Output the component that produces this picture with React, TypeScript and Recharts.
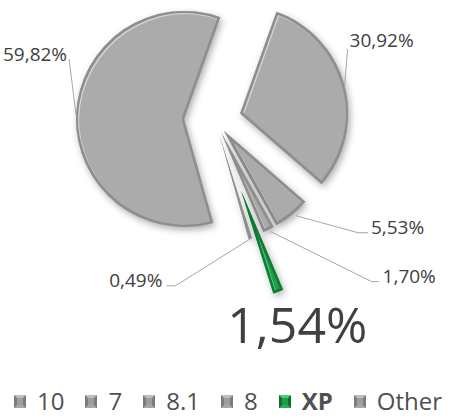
import React from "react";
import { Cell, Legend, Pie, PieChart } from "recharts";

const names = ["10", "7", "8.1", "8", "XP", "Other"];
const shares = [59.82, 30.92, 5.53, 1.7, 1.54, 0.49];
const labels = ["59,82%", "30,92%", "5,53%", "1,70%", "1,54%", "0,49%"];

const data = names.map((name, i) => ({ name, value: shares[i] }));

// layout / look
const W = 449;
const H = 418;
const CX = 215;
const CY = 120;
const R = 108;
const START = -74.3; // first slice starts ~164deg clockwise from 12 o'clock
const RAD = Math.PI / 180;
const explode = [31, 26, 14, 14, 75, 16];
const fills = ["#ababab", "#ababab", "#ababab", "#ababab", "#21a04b", "#ababab"];

type LabelStyle = {
  dx: number;
  dy: number;
  anchor: "start" | "end" | "middle";
  size: number;
  line: [number, number][];
};

const labelStyles: LabelStyle[] = [
  { dx: -9, dy: -54, anchor: "end", size: 19, line: [[0, 0], [-7, -56]] },
  { dx: 5, dy: -39, anchor: "start", size: 19, line: [[0, 0], [3, -37]] },
  { dx: 79, dy: 19, anchor: "start", size: 19, line: [[4, 1], [66, 18], [76, 18]] },
  { dx: 114, dy: 53, anchor: "start", size: 19, line: [[2, 2], [103, 52], [110, 52]] },
  { dx: 19, dy: 51, anchor: "middle", size: 50, line: [] },
  { dx: -88, dy: 48, anchor: "end", size: 19, line: [[0, 0], [-75, 47], [-84, 47]] },
];

const total = shares.reduce((a, b) => a + b, 0);
const midAngles = shares.map((v, i) => {
  const before = shares.slice(0, i).reduce((a, b) => a + b, 0);
  return START - (360 * (before + v / 2)) / total;
});

function BevelFilter({ id, rim, light }: { id: string; rim: string; light: string }) {
  return (
    <filter id={id} x="-20%" y="-20%" width="140%" height="140%" colorInterpolationFilters="sRGB">
      <feGaussianBlur in="SourceAlpha" stdDeviation="3.5" result="sb" />
      <feOffset in="sb" dx="2" dy="3" result="so" />
      <feFlood floodColor="#000" floodOpacity="0.32" />
      <feComposite in2="so" operator="in" result="shadow" />
      <feMorphology in="SourceAlpha" operator="erode" radius="2" result="inner" />
      <feComposite in="SourceAlpha" in2="inner" operator="out" result="rimA" />
      <feFlood floodColor={rim} />
      <feComposite in2="rimA" operator="in" result="rimC" />
      <feOffset in="inner" dx="1.3" dy="1.3" result="innerS" />
      <feComposite in="inner" in2="innerS" operator="out" result="hlA" />
      <feFlood floodColor={light} floodOpacity="0.85" />
      <feComposite in2="hlA" operator="in" result="hl" />
      <feMerge>
        <feMergeNode in="shadow" />
        <feMergeNode in="SourceGraphic" />
        <feMergeNode in="rimC" />
        <feMergeNode in="hl" />
      </feMerge>
    </filter>
  );
}

const renderLabel = (slice: number) => (props: any) => {
  const { cx, cy, midAngle, outerRadius, index } = props;
  if (index !== slice) return null;
  const px = cx + outerRadius * Math.cos(-midAngle * RAD);
  const py = cy + outerRadius * Math.sin(-midAngle * RAD);
  const s = labelStyles[slice];
  const pts = s.line.map(([x, y]) => `${px + x},${py + y}`).join(" ");
  return (
    <g key={`lbl-${slice}`}>
      {s.line.length > 0 && <polyline points={pts} fill="none" stroke="#a6a6a6" strokeWidth={1} />}
      <text
        x={px + s.dx}
        y={py + s.dy}
        textAnchor={s.anchor}
        fontFamily="'Open Sans', sans-serif"
        fontSize={s.size}
        fill="#404040"
      >
        {labels[slice]}
      </text>
    </g>
  );
};

// bevelled legend square, built from css borders
function Marker({ green }: { green: boolean }) {
  const c = green
    ? { top: "#52c97a", bottom: "#2eab59", side: "#0d6e30", mid: "#1c9e48" }
    : { top: "#bdbdbd", bottom: "#a8a8a8", side: "#7c7c7c", mid: "#9e9e9e" };
  return (
    <div
      style={{
        width: 12,
        height: 13,
        minWidth: 12,
        boxSizing: "border-box",
        borderStyle: "solid",
        borderWidth: 3,
        borderTopColor: c.top,
        borderBottomColor: c.bottom,
        borderLeftColor: c.side,
        borderRightColor: c.side,
        background: c.mid,
        flexShrink: 0,
      }}
    />
  );
}

const renderLegend = () => (
  <div
    style={{
      display: "flex",
      alignItems: "center",
      height: 34,
      paddingLeft: 14,
      fontFamily: "'Open Sans', sans-serif",
      fontSize: 24,
      color: "#505050",
      whiteSpace: "nowrap",
    }}
  >
    {names.map((n, i) => (
      <div key={n} style={{ display: "flex", alignItems: "center", marginRight: 21, flexShrink: 0 }}>
        <Marker green={i === 4} />
        <span style={{ marginLeft: 11, fontWeight: i === 4 ? 700 : 400, lineHeight: "34px" }}>{n}</span>
      </div>
    ))}
  </div>
);

export default function App() {
  return (
    <div style={{ position: "absolute", left: 0, top: 0, width: W, height: H, background: "#fff" }}>
      <PieChart width={W} height={H} margin={{ top: 0, right: 0, bottom: 0, left: 0 }}>
        <defs>
          <BevelFilter id="bevelGrey" rim="#8e8e8e" light="#dedede" />
          <BevelFilter id="bevelGreen" rim="#127a36" light="#7be09a" />
        </defs>
        {names.map((_, i) => {
          const ox = explode[i] * Math.cos(-midAngles[i] * RAD);
          const oy = explode[i] * Math.sin(-midAngles[i] * RAD);
          return (
            <Pie
              key={i}
              data={data}
              dataKey="value"
              nameKey="name"
              cx={CX + ox}
              cy={CY + oy}
              innerRadius={0}
              outerRadius={R}
              startAngle={START}
              endAngle={START - 360}
              stroke="none"
              legendType="none"
              label={renderLabel(i)}
              labelLine={false}
              isAnimationActive={false}
            >
              {data.map((d, j) => (
                <Cell
                  key={d.name}
                  fill={j === i ? fills[j] : "none"}
                  stroke="none"
                  filter={j === i ? (j === 4 ? "url(#bevelGreen)" : "url(#bevelGrey)") : undefined}
                />
              ))}
            </Pie>
          );
        })}
        <Legend verticalAlign="bottom" content={renderLegend} />
      </PieChart>
    </div>
  );
}
